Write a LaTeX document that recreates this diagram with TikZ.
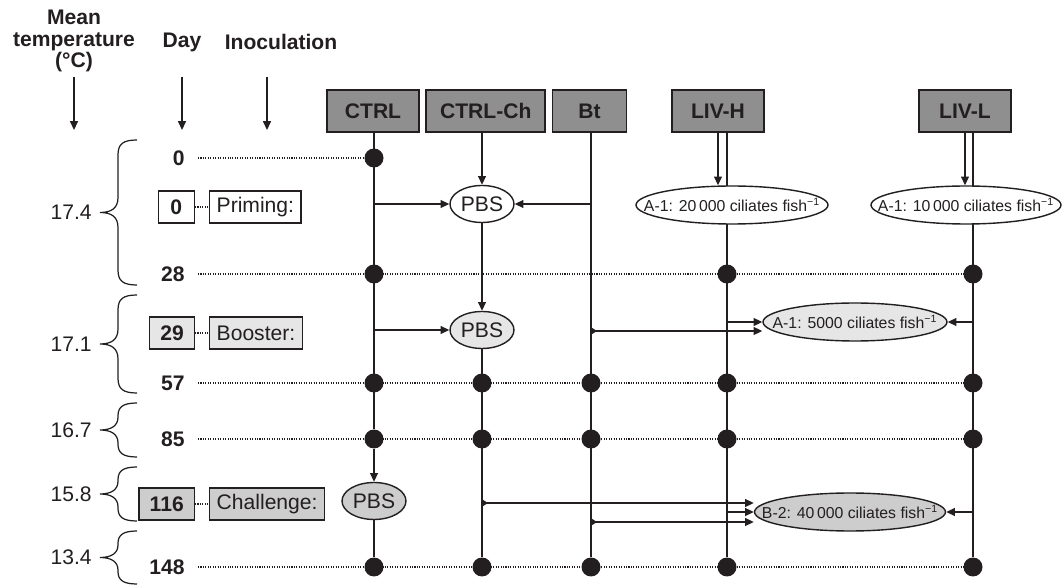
\documentclass[tikz,border=0pt]{standalone}
\usepackage{fontspec}
\setmainfont{Liberation Sans}
\usetikzlibrary{arrows.meta, positioning, shapes.geometric, calc, backgrounds}
\definecolor{textDark}{HTML}{231F20}
\definecolor{groupGray}{HTML}{8F8F8F}
\definecolor{boostGray}{HTML}{E6E6E6}
\definecolor{challGray}{HTML}{CDCDCD}

\begin{document}
\begin{tikzpicture}[x=0.02cm, y=-0.02cm,
    >={Triangle[width=4.5pt, length=5pt]},
    head/.style={font=\fontsize{12}{12}\selectfont\bfseries\color{textDark}, align=center},
    grp/.style={rectangle, draw=textDark, line width=1pt, fill=groupGray,
                minimum width=#1, minimum height=0.84cm, inner sep=0pt,
                font=\fontsize{12}{12}\selectfont\bfseries\color{textDark}},
    day/.style={font=\fontsize{12}{12}\selectfont\bfseries\color{textDark},
                inner sep=0pt, anchor=east},
    temp/.style={font=\fontsize{12}{12}\selectfont\color{textDark},
                 inner sep=0pt, anchor=east},
    daybox/.style={rectangle, draw=textDark, line width=0.8pt, fill=#1,
                   minimum width=0.72cm, minimum height=0.64cm, inner xsep=6pt,
                   inner ysep=0pt, anchor=east,
                   font=\fontsize{12}{12}\selectfont\bfseries\color{textDark}},
    inoc/.style={rectangle, draw=textDark, line width=0.8pt, fill=#1,
                 minimum height=0.64cm, inner xsep=4pt, inner ysep=0pt,
                 font=\fontsize{12}{12}\selectfont\color{textDark}},
    pbs/.style={ellipse, draw=textDark, line width=0.8pt, fill=#1, inner sep=0pt,
                minimum width=1.28cm, minimum height=0.74cm,
                font=\fontsize{12}{12}\selectfont\color{textDark}},
    dose/.style={ellipse, draw=textDark, line width=0.8pt, fill=#1, inner sep=0pt,
                 minimum height=0.76cm,
                 font=\fontsize{9}{9}\selectfont\color{textDark}},
    tdot/.style={circle, fill=textDark, inner sep=0pt, minimum size=0.38cm},
    tline/.style={draw=textDark, line width=1.05pt},
    aline/.style={draw=textDark, line width=0.8pt},
    grid/.style={draw=textDark, line width=0.6pt, dash pattern=on 0.6pt off 0.8pt},
    brc/.style={draw=textDark, line width=0.7pt},
    startmark/.style={arrows={Triangle[reversed, width=4pt, length=3.5pt]->}},
  ]
  \useasboundingbox (0,0) rectangle (1062,587);

  \node[head] (hTemp) at (74,41) {Mean\\temperature\\(°C)};
  \node[head] (hDay) at (182,42) {Day};
  \node[head] (hInoc) at (281,42) {Inoculation};
  \foreach \x [count=\i] in {74,182,267} {
    \coordinate (top\i) at (\x,77);
    \coordinate (bot\i) at (\x,130);
    \draw[aline, ->] (top\i) -- (bot\i);
  }

  \node[grp=1.84cm] (ctrl) at (373,111) {CTRL};
  \node[grp=2.38cm, right=0.11cm of ctrl] (ctrlch) {CTRL-Ch};
  \node[grp=1.48cm, right=0.11cm of ctrlch] (bt) {Bt};
  \node[grp=1.84cm] (livh) at (718,111) {LIV-H};
  \node[grp=1.84cm] (livl) at (965,111) {LIV-L};

  \foreach \t/\a/\b [count=\i] in {17.4/140/285, 17.1/295/393, 16.7/403/457,
                                  15.8/467/521, 13.4/531/584} {
    \pgfmathsetmacro{\m}{(\a+\b)/2}
    \pgfmathsetmacro{\c}{min(15,(\b-\a)/4.2)}
    \draw[brc] (137,\a) .. controls (123,\a) and (118,{\a+4}) .. (118,{\a+\c})
      -- (118,{\m-\c}) .. controls (118,{\m-4}) and (111,\m) .. (100,\m)
      .. controls (111,\m) and (118,{\m+4}) .. (118,{\m+\c})
      -- (118,{\b-\c}) .. controls (118,{\b-4}) and (123,\b) .. (137,\b);
    \node[temp] (temp\i) at (92,\m) {\t};
  }

  \foreach \d/\y in {0/158, 28/274, 57/383, 85/439, 148/567}
    \node[day] (day\d) at (185,\y) {\d};

  \node[tdot] (c0) at (374,158) {};
  \foreach \col/\x in {c/374, h/727, l/973}
    \node[tdot] (\col28) at (\x,274) {};
  \foreach \r/\y in {57/383, 85/439, 148/567}
    \foreach \col/\x in {c/374, ch/482, b/591, h/727, l/973}
      \node[tdot] (\col\r) at (\x,\y) {};

  \node[daybox=white] (ib0) at (195,207) {0};
  \node[inoc=white, right=0.28cm of ib0] (iPrim) {Priming:};
  \node[daybox=boostGray] (ib29) at (195,333) {29};
  \node[inoc=boostGray, right=0.28cm of ib29] (iBoost) {Booster:};
  \node[daybox=challGray] (ib116) at (195,504) {116};
  \node[inoc=challGray, right=0.28cm of ib116] (iChall) {Challenge:};

  \node[pbs=white] (pbsP) at (482,204) {PBS};
  \node[pbs=boostGray] (pbsB) at (482,330) {PBS};
  \node[pbs=challGray] (pbsC) at (374,501) {PBS};
  \node[dose=white, minimum width=3.84cm] (a1H) at (732,205)
    {\makebox[0pt]{A-1: 20\,000 ciliates fish\textsuperscript{−1}}};
  \node[dose=white, minimum width=3.80cm] (a1L) at (966,205)
    {\makebox[0pt]{A-1: 10\,000 ciliates fish\textsuperscript{−1}}};
  \node[dose=boostGray, minimum width=3.68cm] (a15) at (855,322)
    {\makebox[0pt]{A-1: 5000 ciliates fish\textsuperscript{−1}}};
  \node[dose=challGray, minimum width=3.82cm] (b2) at (850,512)
    {\makebox[0pt]{B-2: 40\,000 ciliates fish\textsuperscript{−1}}};

  \coordinate (btB) at ($(a15.west)+(0,9)$);
  \coordinate (chCh) at ($(b2.west)+(0,-9)$);
  \coordinate (chBt) at ($(b2.west)+(0,10)$);

  \begin{scope}[on background layer]
    \draw[grid] ([xshift=0.26cm]day0.east) -- (c0);
    \foreach \d in {28,57,85,148}
      \draw[grid] ([xshift=0.26cm]day\d.east) -- (l\d);
    \draw[grid] (ib0) -- (iPrim);
    \draw[grid] (ib29) -- (iBoost);
    \draw[grid] (ib116) -- (iChall);

    \draw[tline] (ctrl.south -| c0) -- (c85);
    \draw[aline, ->] (c85) -- (pbsC);
    \draw[tline] (pbsC) -- (c148);
    \draw[aline, ->] (ctrlch.south -| pbsP) -- (pbsP);
    \draw[aline, ->] (pbsP) -- (pbsB);
    \draw[tline] (pbsB) -- (ch148);
    \draw[tline] (bt.south -| b148) -- (b148);
    \draw[aline, ->] (livh) -- (livh |- a1H.north);
    \draw[tline] (livh.south -| h28) -- (h148);
    \draw[aline, ->] (livl) -- (livl |- a1L.north);
    \draw[tline] (livl.south -| l28) -- (l148);

    \draw[aline, ->] (pbsP -| c0) -- (pbsP);
    \draw[aline, ->] (pbsP -| b148) -- (pbsP);

    \draw[aline, ->] (pbsB -| c0) -- (pbsB);
    \draw[aline, startmark] (btB -| b148) -- (btB);
    \draw[aline, ->] (a15.west -| h28) -- (a15.west);
    \draw[aline, ->] (a15.east -| l28) -- (a15.east);

    \draw[aline, startmark] (chCh -| ch85) -- (chCh);
    \draw[aline, ->] (b2.west -| h85) -- (b2.west);
    \draw[aline, startmark] (chBt -| b85) -- (chBt);
    \draw[aline, ->] (b2.east -| l85) -- (b2.east);
  \end{scope}
\end{tikzpicture}
\end{document}
